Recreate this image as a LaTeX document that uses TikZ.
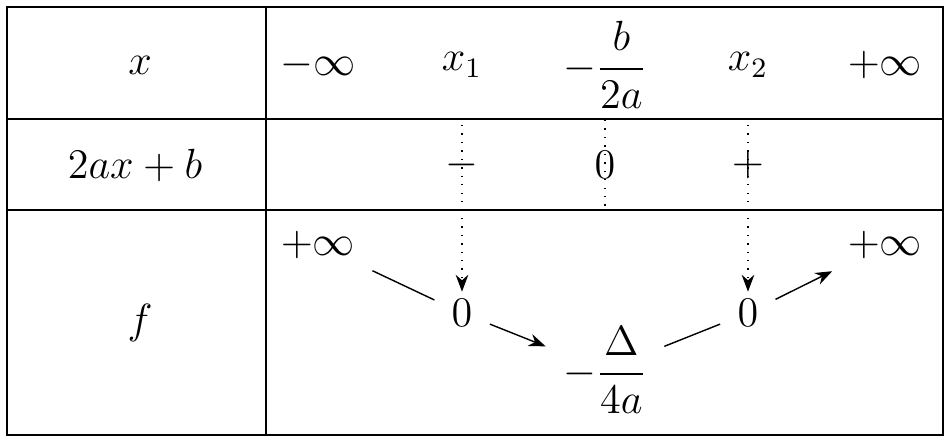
\documentclass[tikz,border=0pt]{standalone}
\usepackage{amsmath}
\usetikzlibrary{arrows.meta}
\begin{document}
\begin{tikzpicture}[x=0.01cm, y=-0.01cm,
    every node/.style={font=\large, inner sep=2pt},
    varline/.style={thin, shorten >=3pt, shorten <=3pt},
    dotline/.style={dotted, thin}]

    % Frame
    \useasboundingbox (0,0) rectangle (950,442);
    \draw[thick] (7,7) rectangle (943,435);
    \draw[thick] (266,7) -- (266,435);
    \draw[thick] (7,119) -- (943,119);
    \draw[thick] (7,210) -- (943,210);

    % Header row
    \node (hx) at (140,65) {$x$};
    \node (minf) at (318,65) {$-\infty$};
    \node (x1) at (462,65) {$x_1$};
    \node (xm) at (605,65) {$-\dfrac{b}{2a}$};
    \node (x2) at (748,65) {$x_2$};
    \node (pinf) at (885,65) {$+\infty$};

    % Sign row
    \node (hs) at (135,165) {$2ax+b$};
    \node (sm) at (462,165) {$-$};
    \node (sz) at (605,165) {$0$};
    \node (sp) at (748,165) {$+$};

    % Variation row
    \node (hf) at (140,323) {$f$};
    \node (fa) at (318,245) {$+\infty$};
    \node (f1) at (462,313) {$0$};
    \node (fm) at (605,370) {$-\dfrac{\Delta}{4a}$};
    \node (f2) at (748,313) {$0$};
    \node (fb) at (885,245) {$+\infty$};

    % Dotted guides
    \coordinate (d1) at (462,125);
    \coordinate (d2) at (748,125);
    \draw[dotline, -Stealth] (d1) -- (f1.north);
    \draw[dotline, -Stealth] (d2) -- (f2.north);
    \draw[dotline] (605,120) -- (605,210);

    % Variations
    \draw[varline] (fa) -- (f1);
    \draw[varline, -Stealth] (f1) -- (fm);
    \draw[varline] (fm) -- (f2);
    \draw[varline, -Stealth] (f2) -- (fb);

\end{tikzpicture}
\end{document}
